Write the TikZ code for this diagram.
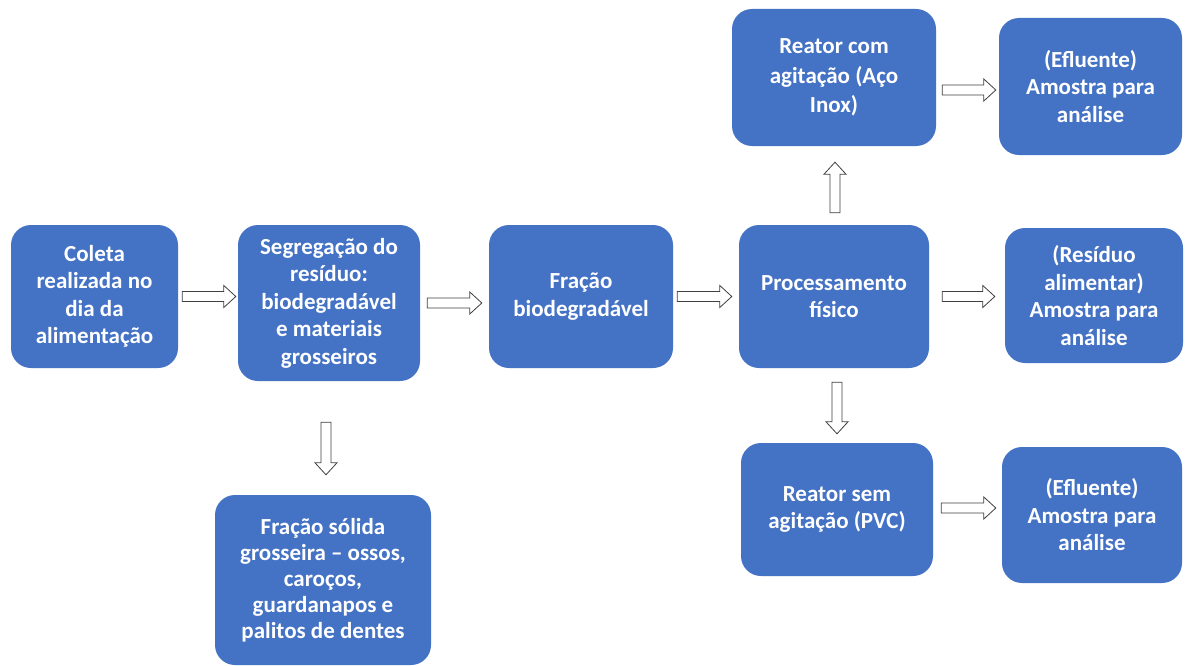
\documentclass[tikz,border=0pt]{standalone}
\usepackage{fontspec}
\setmainfont{Carlito}
\usetikzlibrary{calc}
\definecolor{boxblue}{HTML}{4472C4}
\definecolor{arrowgray}{HTML}{404040}
\begin{document}
\begin{tikzpicture}[x=1pt,y=-1pt,
  box/.style={fill=boxblue, rounded corners=20pt, text=white,
    font=\bfseries\fontsize{23}{27.5}\selectfont, align=center, inner sep=0pt},
  hollow/.style={draw=arrowgray, fill=white, line width=0.8pt, line join=miter,
    to path={let \p1=(\tikztostart), \p2=(\tikztotarget), \p3=($(\p2)!12pt!(\p1)$) in
      ($(\p1)!5pt!90:(\p2)$) -- ($(\p3)!5pt!90:(\p2)$) -- ($(\p3)!11pt!90:(\p2)$) -- (\p2)
      -- ($(\p3)!11pt!-90:(\p2)$) -- ($(\p3)!5pt!-90:(\p2)$) -- ($(\p1)!5pt!-90:(\p2)$) -- cycle}}]
\useasboundingbox (0,0) rectangle (1185,666);
\fill[white] (0,0) rectangle (1185,666);

\node[box, minimum width=167pt, minimum height=143pt] (b1) at (94.5,296.5) {Coleta\\realizada no\\dia da\\alimentação};
\node[box, minimum width=182pt, minimum height=156pt] (b2) at (329,303) {Segregação do\\resíduo:\\biodegradável\\e materiais\\grosseiros};
\node[box, minimum width=184pt, minimum height=143pt] (b3) at (581,296.5) {Fração\\biodegradável};
\node[box, minimum width=190pt, minimum height=143pt] (b4) at (834,296.5) {Processamento\\físico};
\node[box, minimum width=204pt, minimum height=137pt, font=\bfseries\fontsize{23}{29.5}\selectfont] (b5) at (834,77.5) {Reator com\\agitação (Aço\\Inox)};
\node[box, minimum width=183pt, minimum height=137pt] (b6) at (1090.5,86.5) {(Efluente)\\Amostra para\\análise};
\node[box, minimum width=178pt, minimum height=135pt] (b7) at (1094,295.5) {(Resíduo\\alimentar)\\Amostra para\\análise};
\node[box, minimum width=192pt, minimum height=133pt] (b8) at (837,509.5) {Reator sem\\agitação (PVC)};
\node[box, minimum width=180pt, minimum height=136pt] (b9) at (1092,515) {(Efluente)\\Amostra para\\análise};
\node[box, minimum width=216pt, minimum height=170pt, font=\bfseries\fontsize{23}{26}\selectfont] (b10) at (323,580) {Fração sólida\\grosseira – ossos,\\caroços,\\guardanapos e\\palitos de dentes};

\draw[hollow] ($(b1.east)+(4,0)$) to ($(b2.west |- b1.east)+(-2,0)$);
\draw[hollow] ($(b2.east)+(7,0)$) to ($(b3.west |- b2.east)+(-7,0)$);
\draw[hollow] ($(b3.east)+(4,0)$) to ($(b4.west |- b3.east)+(-7,0)$);
\draw[hollow] ($(b4.east)+(13,0)$) to ($(b7.west |- b4.east)+(-10,0)$);
\draw[hollow] ($(b5.east)+(6,12.5)$) to ($(b6.west)+(-3,3.5)$);
\draw[hollow] ($(b4.north)+(1,-12)$) to ($(b5.south)+(1,16)$);
\draw[hollow] ($(b4.south -| b8.north)+(0,14)$) to ($(b8.north)+(0,-9)$);
\draw[hollow] ($(b8.east)+(8,-1.5)$) to ($(b9.west |- b8.east)+(-6,-1.5)$);
\draw[hollow] ($(b2.south)+(-3,41)$) to ($(b10.north)+(3,-20)$);
\end{tikzpicture}
\end{document}
